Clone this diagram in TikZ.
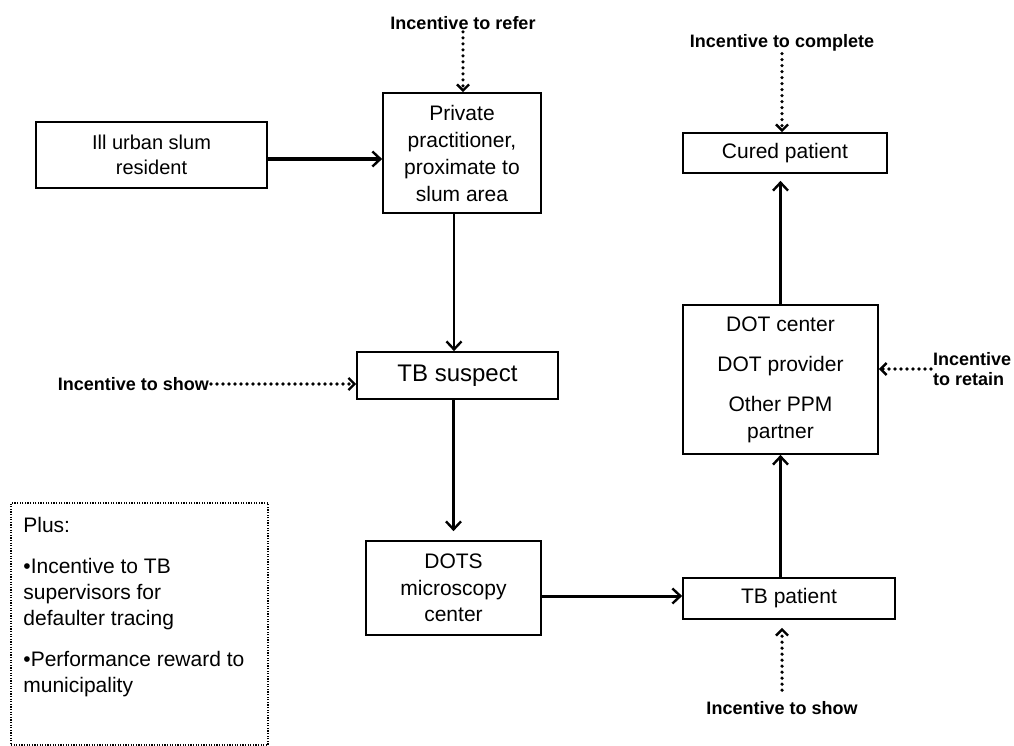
\documentclass[tikz,border=0pt]{standalone}
\usepackage{fontspec}
\setmainfont{Liberation Sans}
\usetikzlibrary{arrows.meta,calc}

\tikzset{
  stepbox/.style={draw, line width=1.7pt, rectangle, inner sep=0pt, align=center,
    font=\fontsize{21}{27}\selectfont},
  flow/.style={line width=2.6pt, -{Straight Barb[length=8pt,width=15pt,line width=2.4pt]}},
  inc/.style={line width=3.6pt, line cap=round, dash pattern=on 0pt off 6pt,
    -{Straight Barb[length=6pt,width=12pt,line width=2.4pt]}},
  inclabel/.style={font=\fontsize{18}{20}\selectfont\bfseries, inner sep=2pt, align=left},
  plusbox/.style={draw, line width=1.6pt, dash pattern=on 1.2pt off 1.4pt, rectangle, inner sep=0pt}
}

\begin{document}
\begin{tikzpicture}[x=1pt,y=-1pt]
\useasboundingbox (0,0) rectangle (1014,746);

% process boxes
\node[stepbox, minimum width=231pt, minimum height=66pt, font=\fontsize{20}{25}\selectfont]
  (ill) at (151.5,155) {Ill urban slum\\resident};
\node[stepbox, minimum width=158pt, minimum height=120pt]
  (priv) at (462,153) {Private\\practitioner,\\proximate to\\slum area};
\node[stepbox, minimum width=201pt, minimum height=47pt, font=\fontsize{24}{28}\selectfont]
  (tbs) at (457.5,375.5) {TB suspect};
\node[stepbox, minimum width=175pt, minimum height=94pt, font=\fontsize{21}{26.5}\selectfont]
  (dots) at (453.5,588) {DOTS\\microscopy\\center};
\node[stepbox, minimum width=212pt, minimum height=41pt]
  (tpat) at (789,598.5) {TB patient};
\node[stepbox, minimum width=195pt, minimum height=149pt]
  (dot) at (780.5,379.5) {DOT center\\[13pt]DOT provider\\[13pt]Other PPM\\partner};
\node[stepbox, minimum width=204pt, minimum height=40pt]
  (cured) at (785,153) {Cured patient};

% additional incentives box
\node[plusbox, minimum width=257pt, minimum height=242pt] (plus) at (139.5,624) {};
\node[anchor=north west, inner sep=0pt, align=left, font=\fontsize{21}{26}\selectfont]
  (plustxt) at ([xshift=13pt,yshift=-15pt]plus.north west)
  {Plus:\\[15pt]\textbullet Incentive to TB\\supervisors for\\defaulter tracing\\[15pt]\textbullet Performance reward to\\municipality};

% incentive labels
\node[inclabel] (refer) at (463,23) {Incentive to refer};
\node[inclabel] (complete) at (782,43) {Incentive to complete};
\node[inclabel, anchor=west] (retain) at (931,369) {Incentive\\to retain};
\node[inclabel, anchor=east] (showl) at (211,384) {Incentive to show};
\node[inclabel] (showb) at (782,708) {Incentive to show};

% patient pathway
\draw[flow, line width=3.2pt] ([yshift=-4pt]ill.east) -- ([yshift=-4pt]ill.east -| priv.west);
\draw[flow] ([xshift=-8pt]priv.south) -- ([xshift=-8pt]priv.south |- tbs.north);
\draw[flow, line width=3pt, shorten >=9pt] (tbs.south -| dots.north) -- (dots.north);
\draw[flow, line width=3pt] ([yshift=-8pt]dots.east) -- ([yshift=-8pt]dots.east -| tpat.west);
\draw[flow, line width=3pt] (tpat.north -| dot.south) -- (dot.south);
\draw[flow, line width=3pt, shorten >=7pt] (dot.north) -- (dot.north |- cured.south);

% incentives
\draw[inc] (refer.south) -- (refer.south |- priv.north);
\draw[inc] (complete.south) -- (complete.south |- cured.north);
\draw[inc] (retain.west) -- (retain.west -| dot.east);
\draw[inc] (showl.east) -- (showl.east -| tbs.west);
\draw[inc, shorten <=9pt, shorten >=8pt] (showb.north) -- (showb.north |- tpat.south);
\end{tikzpicture}
\end{document}
